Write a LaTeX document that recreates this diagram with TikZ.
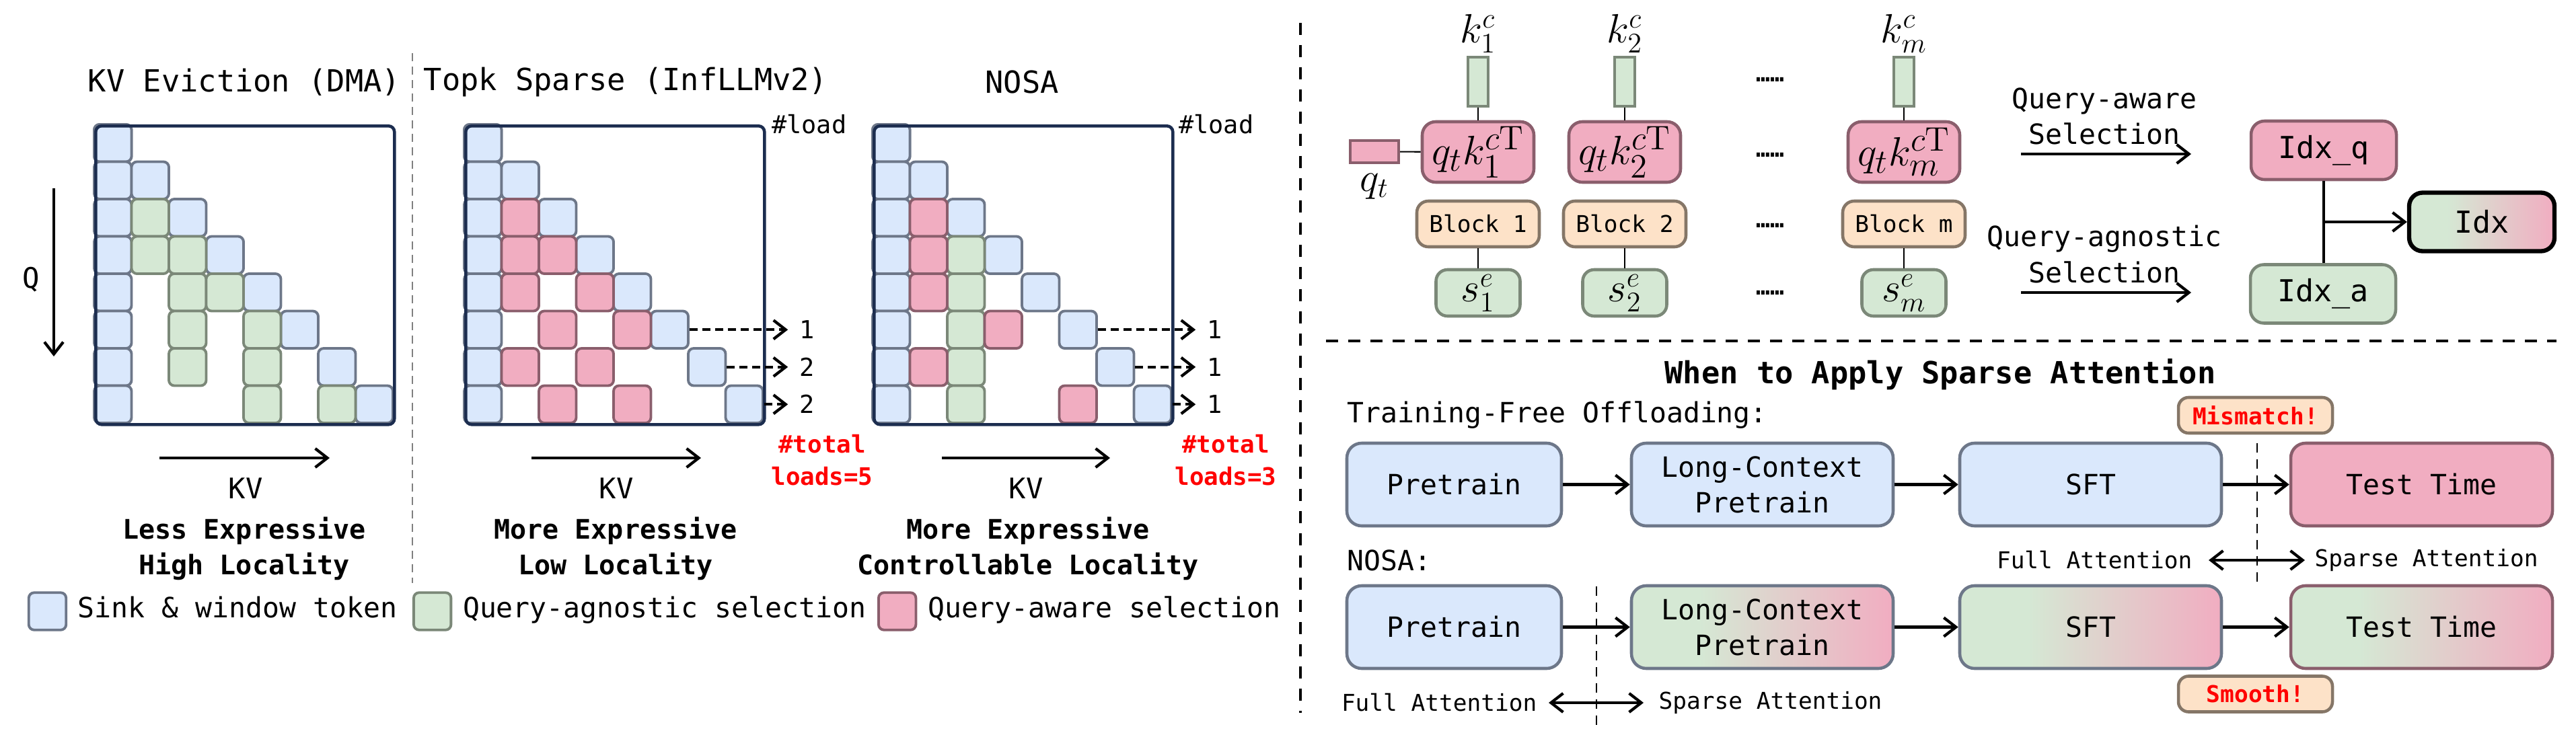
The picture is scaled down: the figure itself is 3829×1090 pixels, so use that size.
\documentclass[tikz,border=0pt]{standalone}
\usepackage[no-math]{fontspec}
\setmainfont{DejaVu Sans Mono}
\usepackage{amsmath}
\usetikzlibrary{shapes,arrows.meta,positioning,calc}

\definecolor{sinkF}{HTML}{DAE8FC}
\definecolor{sinkD}{HTML}{6D7789}
\definecolor{agnF}{HTML}{D5E8D4}
\definecolor{agnD}{HTML}{7B8878}
\definecolor{awrF}{HTML}{F1ADC1}
\definecolor{awrD}{HTML}{8A5E6C}
\definecolor{blkF}{HTML}{FDE2C8}
\definecolor{blkD}{HTML}{857667}
\definecolor{frameC}{HTML}{1C2D4F}
\definecolor{hotred}{HTML}{FF0000}

\pgfdeclarehorizontalshading{agnawr}{100bp}{color(0bp)=(agnF); color(38bp)=(agnF); color(75bp)=(awrF); color(100bp)=(awrF)}

\newcommand{\ftitle}{\fontsize{12.9}{15}\selectfont}
\newcommand{\fbody}{\fontsize{11.8}{15.1}\selectfont}
\newcommand{\fdesc}{\fontsize{11.4}{15.1}\selectfont\bfseries}
\newcommand{\fload}{\fontsize{10.5}{12.6}\selectfont}
\newcommand{\ftotal}{\fontsize{10.2}{13.7}\selectfont\bfseries}
\newcommand{\fsmall}{\fontsize{9.8}{12}\selectfont}
\newcommand{\fkv}{\fontsize{12}{14}\selectfont}
\newcommand{\fmath}{\fontsize{16.5}{19}\selectfont}

\tikzset{
  cellbox/.style={line width=1.1pt, rounded corners=2.3pt, minimum width=5.55mm, minimum height=5.55mm, inner sep=0pt},
  sink/.style={cellbox, fill=sinkF, draw=sinkD},
  agn/.style={cellbox, fill=agnF, draw=agnD},
  awr/.style={cellbox, fill=awrF, draw=awrD},
  mframe/.style={draw=frameC, line width=1.3pt, rounded corners=2.5pt, minimum width=44.4mm, minimum height=44.4mm, inner sep=0pt, anchor=north west},
  bigarrow/.style={->, line width=1.2pt},
  dblarrow/.style={<->, line width=1.2pt},
  loadarrow/.style={->, line width=1.2pt, dash pattern=on 1.2mm off 0.7mm},
  numlbl/.style={font=\fload, inner xsep=1.7mm, inner ysep=0pt},
  legtxt/.style={font=\fbody, inner sep=0pt, text height=0.75em, text depth=0.22em},
  stage/.style={line width=1.3pt, rounded corners=2.2mm, minimum height=12.3mm, minimum width=38.9mm, font=\fbody, align=center},
  bluestage/.style={stage, fill=sinkF, draw=sinkD},
  pinkstage/.style={stage, fill=awrF, draw=awrD},
  gradstage/.style={stage, draw=sinkD, shade, shading=agnawr},
  tag/.style={draw=blkD, fill=blkF, line width=1.3pt, rounded corners=1.5mm, minimum width=22.9mm, minimum height=5.3mm, font=\fsmall\bfseries, text=hotred},
  qkbox/.style={draw=awrD, fill=awrF, line width=1.3pt, rounded corners=2mm, minimum width=16.6mm, minimum height=9mm, inner sep=0pt, font=\fontsize{19}{21}\selectfont},
  blkbox/.style={draw=blkD, fill=blkF, line width=1.3pt, rounded corners=1.7mm, minimum width=18.2mm, minimum height=6.8mm, font=\fsmall},
  sbox/.style={draw=agnD, fill=agnF, line width=1.3pt, rounded corners=1.7mm, minimum width=12.5mm, minimum height=6.9mm, inner sep=0pt, font=\fmath},
  kbar/.style={draw=agnD, fill=agnF, line width=1.2pt, minimum width=3mm, minimum height=7.3mm, inner sep=0pt},
  qrect/.style={draw=awrD, fill=awrF, line width=1.2pt, minimum width=7.2mm, minimum height=3.3mm, inner sep=0pt},
  idxbox/.style={line width=1.3pt, rounded corners=2mm, minimum width=21.6mm, minimum height=8.7mm, font=\fontsize{12.8}{15}\selectfont},
  thinline/.style={line width=0.6pt},
  bigdash/.style={line width=1.3pt, dash pattern=on 1.8mm off 1.5mm},
  cutline/.style={line width=0.6pt, dash pattern=on 1.4mm off 1mm}
}

\begin{document}
\begin{tikzpicture}[x=0.1mm, y=-0.1mm, >={Straight Barb[length=1.8mm,width=2.8mm]}]
\useasboundingbox (0,0) rectangle (3829,1090);

% Titles
\node[font=\ftitle] (t1) at (363,122) {KV Eviction (DMA)};
\node[font=\ftitle] (t2) at (930,122) {Topk Sparse (InfLLMv2)};
\node[font=\ftitle] (t3) at (1519,122) {NOSA};

% KV Eviction (DMA)
\begin{scope}[shift={(140,185)}]
  \foreach \r in {0,...,7} {
    \node[sink] at (27.75,{\r*55.5+27.75}) {};
    \node[sink] (m1d\r) at ({\r*55.5+27.75},{\r*55.5+27.75}) {};
  }
  \foreach \r/\c in {2/1,3/1,3/2,4/2,4/3,5/2,5/4,6/2,6/4,7/4,7/6}
    \node[agn] at ({\c*55.5+27.75},{\r*55.5+27.75}) {};
\end{scope}
\node[mframe] (f1) at (140,185) {};

% Topk Sparse (InfLLMv2)
\begin{scope}[shift={(690,185)}]
  \foreach \r in {0,...,7} {
    \node[sink] at (27.75,{\r*55.5+27.75}) {};
    \node[sink] (m2d\r) at ({\r*55.5+27.75},{\r*55.5+27.75}) {};
  }
  \foreach \r/\c in {2/1,3/1,3/2,4/1,4/3,5/2,5/4,6/1,6/3,7/2,7/4}
    \node[awr] at ({\c*55.5+27.75},{\r*55.5+27.75}) {};
\end{scope}
\node[mframe] (f2) at (690,185) {};

% NOSA
\begin{scope}[shift={(1297,185)}]
  \foreach \r in {0,...,7} {
    \node[sink] at (27.75,{\r*55.5+27.75}) {};
    \node[sink] (m3d\r) at ({\r*55.5+27.75},{\r*55.5+27.75}) {};
  }
  \foreach \r/\c in {3/2,4/2,5/2,6/2,7/2}
    \node[agn] at ({\c*55.5+27.75},{\r*55.5+27.75}) {};
  \foreach \r/\c in {2/1,3/1,4/1,5/3,6/1,7/5}
    \node[awr] at ({\c*55.5+27.75},{\r*55.5+27.75}) {};
\end{scope}
\node[mframe] (f3) at (1297,185) {};

% Loads
\node[anchor=west, font=\fload, inner sep=0pt] (ld2) at ([xshift=0.8mm]f2.north east) {\#load};
\node[anchor=west, font=\fload, inner sep=0pt] (ld3) at ([xshift=0.6mm]f3.north east) {\#load};
\foreach \r/\n [count=\k] in {5/1,6/2,7/2} {
  \node[numlbl] (n2\k) at (1200,{185+(\r+0.5)*55.5}) {\n};
  \draw[loadarrow] (m2d\r.east) -- (m2d\r.east -| n2\k.west);
}
\foreach \r/\n [count=\k] in {5/1,6/1,7/1} {
  \node[numlbl] (n3\k) at (1806,{185+(\r+0.5)*55.5}) {\n};
  \draw[loadarrow] (m3d\r.east) -- (m3d\r.east -| n3\k.west);
}
\node[font=\ftotal, text=hotred, align=center] (tot2) at (1222,684) {\#total\\loads=5};
\node[font=\ftotal, text=hotred, align=center] (tot3) at (1822,684) {\#total\\loads=3};

% Axes
\node[font=\fkv] (qlbl) at (46,416) {Q};
\coordinate (q0) at (80,280);
\coordinate (q1) at (80,530);
\draw[bigarrow] (q0) -- (q1);
\foreach \a/\b/\m in {237/490/1,790/1042/2,1400/1650/3} {
  \coordinate (kva\m) at (\a,681);
  \coordinate (kvb\m) at (\b,681);
  \draw[bigarrow] (kva\m) -- (kvb\m);
}
\node[font=\fkv] (kv1) at (365,726) {KV};
\node[font=\fkv] (kv2) at (916,726) {KV};
\node[font=\fkv] (kv3) at (1525,726) {KV};

% Descriptions
\node[font=\fdesc, align=center] (d1) at (363,816) {Less Expressive\\High Locality};
\node[font=\fdesc, align=center] (d2) at (915,816) {More Expressive\\Low Locality};
\node[font=\fdesc, align=center] (d3) at (1528,816) {More Expressive\\Controllable Locality};

% Legend
\node[sink] (lg1) at (70.5,909) {};
\node[legtxt, right=1.5mm of lg1] (lgt1) {Sink \& window token};
\node[agn, right=2.2mm of lgt1] (lg2) {};
\node[legtxt, right=1.5mm of lg2] (lgt2) {Query-agnostic selection};
\node[awr, right=1.6mm of lgt2] (lg3) {};
\node[legtxt, right=1.5mm of lg3] (lgt3) {Query-aware selection};

% Dividers
\coordinate (dv1a) at (613,79);
\coordinate (dv1b) at (613,867);
\draw[gray, line width=0.5pt, dash pattern=on 1.2mm off 0.8mm] (dv1a) -- (dv1b);
\coordinate (dv2a) at (1933,34);
\coordinate (dv2b) at (1933,1060);
\draw[bigdash] (dv2a) -- (dv2b);
\coordinate (dv3a) at (1971,507);
\coordinate (dv3b) at (3800,507);
\draw[bigdash] (dv3a) -- (dv3b);

% Block scores
\foreach \ix/\cx/\cs in {1/2197/1,2/2415/2,m/2830/m} {
  \node[font=\fmath, inner sep=1pt] (kl\ix) at (\cx,50) {$k_{\cs}^{c}$};
  \node[kbar] (kb\ix) at (\cx,121.5) {};
  \node[qkbox] (qk\ix) at (\cx,226) {$q_t k_{\cs}^{c\mathrm{T}}$};
  \node[blkbox] (bk\ix) at (\cx,333) {Block \cs};
  \node[sbox] (se\ix) at (\cx,435.5) {$s_{\cs}^{e}$};
  \draw[thinline] (kb\ix) -- (qk\ix);
  \draw[thinline] (bk\ix) -- (se\ix);
}
\foreach \y [count=\k] in {118,230,335,435}
  \node[font=\fsmall\bfseries] (dots\k) at (2631,\y) {……};
\node[qrect] (qt) at (2043,225.5) {};
\node[font=\fmath, inner sep=1pt] (qtl) at (2043,277) {$q_t$};
\draw[thinline] (qt) -- (qk1);

% Selection
\node[font=\fbody, align=center] (qasel) at (3128,173) {Query-aware\\Selection};
\node[font=\fbody, align=center] (qgsel) at (3128,378) {Query-agnostic\\Selection};
\coordinate (qa0) at (3004,229);
\coordinate (qa1) at (3257,229);
\coordinate (qg0) at (3004,435);
\coordinate (qg1) at (3257,435);
\draw[bigarrow] (qa0) -- (qa1);
\draw[bigarrow] (qg0) -- (qg1);
\node[idxbox, fill=awrF, draw=awrD] (idxq) at (3454,223.5) {Idx\_q};
\node[idxbox, fill=agnF, draw=agnD] (idxa) at (3453,437) {Idx\_a};
\node[idxbox, draw=black, line width=1.8pt, shade, shading=agnawr] (idx) at (3689,330) {Idx};
\draw[line width=1.2pt] (idxq.south) -- (idxq.south |- idxa.north);
\coordinate (jn) at (idxq.south |- idx.west);
\draw[bigarrow] (jn) -- (idx.west);

% When to apply
\node[font=\ftitle\bfseries] (when) at (2884,557) {When to Apply Sparse Attention};
\node[anchor=west, font=\fbody, inner sep=0pt] (tfo) at (2002,617) {Training-Free Offloading:};
\node[bluestage, minimum width=31.9mm] (pre1) at (2161.5,720.5) {Pretrain};
\node[bluestage] (lc1) at (2619.5,720.5) {Long-Context\\Pretrain};
\node[bluestage] (sft1) at (3107.5,720.5) {SFT};
\node[pinkstage] (tt1) at (3599.5,720.5) {Test Time};
\draw[bigarrow] (pre1) -- (lc1);
\draw[bigarrow] (lc1) -- (sft1);
\draw[bigarrow] (sft1) -- (tt1);
\node[tag] (mis) at (3352.5,617.5) {Mismatch!};
\coordinate (cut1a) at (3355,659);
\coordinate (cut1b) at (3355,865);
\draw[cutline] (cut1a) -- (cut1b);
\node[anchor=east, font=\fsmall, inner sep=0pt] (fa1) at (3259,833) {Full Attention};
\node[anchor=west, font=\fsmall, inner sep=0pt] (sa1) at (3440,833) {Sparse Attention};
\draw[dblarrow] ([xshift=2.4mm]fa1.east) -- ([xshift=-1.4mm]sa1.west);

\node[anchor=west, font=\fbody, inner sep=0pt] (nosa) at (2002,833) {NOSA:};
\node[bluestage, minimum width=31.9mm] (pre2) at (2161.5,932.5) {Pretrain};
\node[gradstage] (lc2) at (2619.5,932.5) {Long-Context\\Pretrain};
\node[gradstage] (sft2) at (3107.5,932.5) {SFT};
\node[gradstage, draw=awrD] (tt2) at (3599.5,932.5) {Test Time};
\draw[bigarrow] (pre2) -- (lc2);
\draw[bigarrow] (lc2) -- (sft2);
\draw[bigarrow] (sft2) -- (tt2);
\node[tag] (smo) at (3352.5,1032) {Smooth!};
\coordinate (cut2a) at (2373,872);
\coordinate (cut2b) at (2373,1080);
\draw[cutline] (cut2a) -- (cut2b);
\node[anchor=east, font=\fsmall, inner sep=0pt] (fa2) at (2285,1045) {Full Attention};
\node[anchor=west, font=\fsmall, inner sep=0pt] (sa2) at (2465,1045) {Sparse Attention};
\draw[dblarrow] ([xshift=1.7mm]fa2.east) -- ([xshift=-2.2mm]sa2.west);
\end{tikzpicture}
\end{document}
